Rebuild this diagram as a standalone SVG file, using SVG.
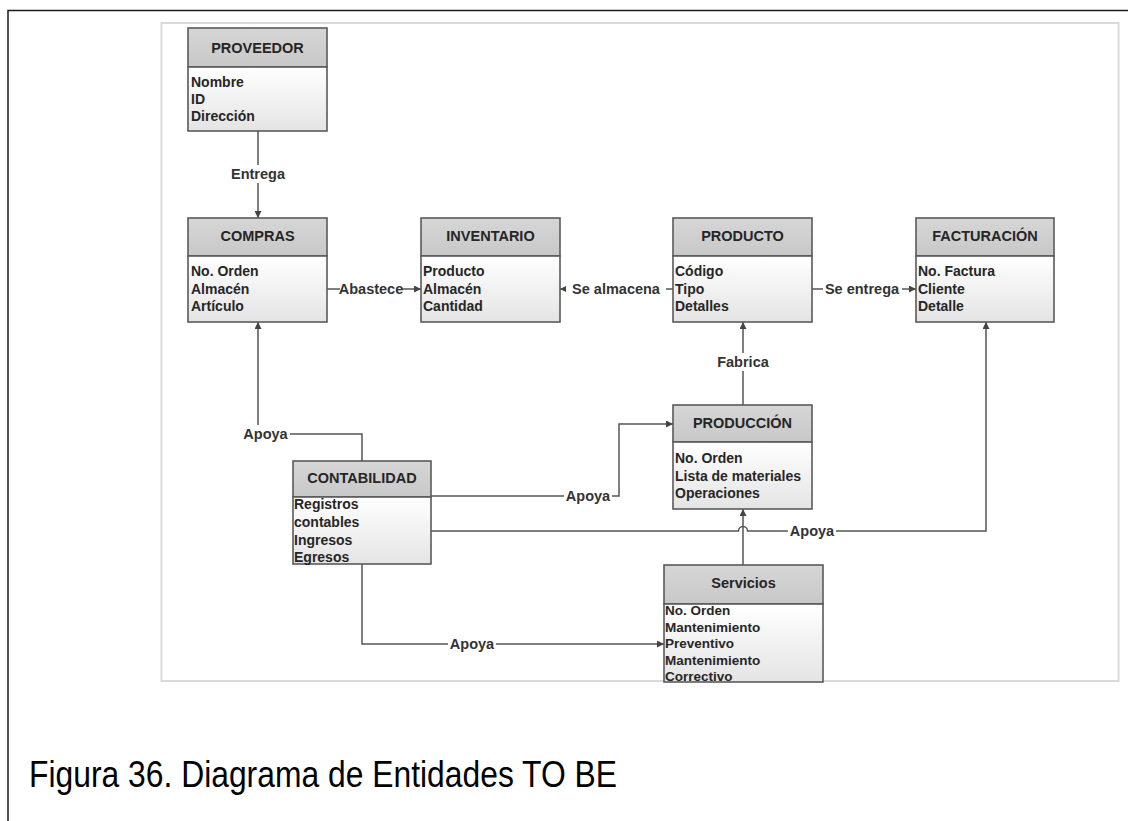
<svg xmlns="http://www.w3.org/2000/svg" width="1128" height="821" viewBox="0 0 1128 821">
  <defs>
    <linearGradient id="hdr" x1="0" y1="0" x2="0" y2="1">
      <stop offset="0" stop-color="#d6d6d6"/>
      <stop offset="1" stop-color="#c8c8c8"/>
    </linearGradient>
    <linearGradient id="body" x1="0" y1="0" x2="0" y2="1">
      <stop offset="0" stop-color="#ffffff"/>
      <stop offset="1" stop-color="#e4e4e4"/>
    </linearGradient>
    <marker id="arr" viewBox="0 0 10 10" refX="10" refY="5" markerWidth="7" markerHeight="7" markerUnits="userSpaceOnUse" orient="auto">
      <path d="M0,0 L10,5 L0,10 Z" fill="#444"/>
    </marker>
  </defs>
  <style>
    .hd { fill: url(#hdr); stroke: #5a5a5a; stroke-width: 1.6; }
    .bd { fill: url(#body); stroke: #5a5a5a; stroke-width: 1.6; }
    .ttl { font-family: "Liberation Sans", Arial, sans-serif; font-weight: bold; font-size: 14.5px; fill: #262626; text-anchor: middle; }
    .att { font-family: "Liberation Sans", Arial, sans-serif; font-weight: bold; font-size: 14px; fill: #262626; }
    .att-s { font-family: "Liberation Sans", Arial, sans-serif; font-weight: bold; font-size: 13.5px; fill: #262626; }
    .ln { fill: none; stroke: #555; stroke-width: 1.5; }
    .lbl { font-family: "Liberation Sans", Arial, sans-serif; font-weight: bold; font-size: 14.5px; fill: #333; text-anchor: middle; }
    .lblbg { fill: #ffffff; }
  </style>

  <!-- page background and margins -->
  <rect x="0" y="0" width="1128" height="821" fill="#ffffff"/>
  <path d="M8,821 V10.5 H1128" fill="none" stroke="#1a1a1a" stroke-width="1.5"/>
  <!-- frame of the embedded figure -->
  <rect x="161.5" y="23" width="957" height="658" fill="#ffffff" stroke="#d9d9d9" stroke-width="2"/>

  <!-- connectors -->
  <g id="connectors">
    <!-- PROVEEDOR -> COMPRAS -->
    <path class="ln" d="M258,131 V218" marker-end="url(#arr)"/>
    <!-- COMPRAS -> INVENTARIO -->
    <path class="ln" d="M327,289 H421" marker-end="url(#arr)"/>
    <!-- PRODUCTO -> INVENTARIO -->
    <path class="ln" d="M673,289 H560" marker-end="url(#arr)"/>
    <!-- PRODUCTO -> FACTURACION -->
    <path class="ln" d="M812,289 H916" marker-end="url(#arr)"/>
    <!-- PRODUCCION -> PRODUCTO -->
    <path class="ln" d="M743,405 V322" marker-end="url(#arr)"/>
    <!-- CONTABILIDAD -> COMPRAS -->
    <path class="ln" d="M362,461 V434 H258 V322" marker-end="url(#arr)"/>
    <!-- CONTABILIDAD -> PRODUCCION -->
    <path class="ln" d="M431,496 H619 V424 H673" marker-end="url(#arr)"/>
    <!-- CONTABILIDAD -> FACTURACION (hops over the Servicios line) -->
    <path class="ln" d="M431,531 H738.5 A4.5,4.5 0 0 1 747.5,531 H986 V322" marker-end="url(#arr)"/>
    <!-- Servicios -> PRODUCCION -->
    <path class="ln" d="M743,565 V509" marker-end="url(#arr)"/>
    <!-- CONTABILIDAD -> Servicios -->
    <path class="ln" d="M362,564 V644 H664" marker-end="url(#arr)"/>

    <!-- labels -->
    <rect class="lblbg" x="229" y="165" width="58" height="18"/>
    <text class="lbl" x="258" y="179">Entrega</text>
    <rect class="lblbg" x="340" y="280" width="62" height="18"/>
    <text class="lbl" x="371" y="294">Abastece</text>
    <rect class="lblbg" x="566" y="280" width="100" height="18"/>
    <text class="lbl" x="616" y="294">Se almacena</text>
    <rect class="lblbg" x="823" y="280" width="79" height="18"/>
    <text class="lbl" x="862" y="294">Se entrega</text>
    <rect class="lblbg" x="714" y="353" width="58" height="18"/>
    <text class="lbl" x="743" y="367">Fabrica</text>
    <rect class="lblbg" x="241" y="425" width="49" height="18"/>
    <text class="lbl" x="265.5" y="439">Apoya</text>
    <rect class="lblbg" x="564" y="487" width="48" height="18"/>
    <text class="lbl" x="588" y="501">Apoya</text>
    <rect class="lblbg" x="788" y="522" width="48" height="18"/>
    <text class="lbl" x="812" y="536">Apoya</text>
    <rect class="lblbg" x="448" y="635" width="48" height="18"/>
    <text class="lbl" x="472" y="649">Apoya</text>
  </g>

  <g id="proveedor">
    <rect class="hd" x="188" y="28" width="139" height="39"/>
    <rect class="bd" x="188" y="67" width="139" height="64"/>
    <text class="ttl" x="257.5" y="53">PROVEEDOR</text>
    <text class="att" x="191" y="87">Nombre</text>
    <text class="att" x="191" y="104">ID</text>
    <text class="att" x="191" y="121">Dirección</text>
  </g>

  <g id="compras">
    <rect class="hd" x="188" y="218" width="139" height="38"/>
    <rect class="bd" x="188" y="256" width="139" height="66"/>
    <text class="ttl" x="257.5" y="241">COMPRAS</text>
    <text class="att" x="191" y="276">No. Orden</text>
    <text class="att" x="191" y="294">Almacén</text>
    <text class="att" x="191" y="311">Artículo</text>
  </g>

  <g id="inventario">
    <rect class="hd" x="421" y="218" width="139" height="38"/>
    <rect class="bd" x="421" y="256" width="139" height="66"/>
    <text class="ttl" x="490.5" y="241">INVENTARIO</text>
    <text class="att" x="423" y="276">Producto</text>
    <text class="att" x="423" y="294">Almacén</text>
    <text class="att" x="423" y="311">Cantidad</text>
  </g>

  <g id="producto">
    <rect class="hd" x="673" y="218" width="139" height="38"/>
    <rect class="bd" x="673" y="256" width="139" height="66"/>
    <text class="ttl" x="742.5" y="241">PRODUCTO</text>
    <text class="att" x="675" y="276">Código</text>
    <text class="att" x="675" y="294">Tipo</text>
    <text class="att" x="675" y="311">Detalles</text>
  </g>

  <g id="facturacion">
    <rect class="hd" x="916" y="218" width="138" height="38"/>
    <rect class="bd" x="916" y="256" width="138" height="66"/>
    <text class="ttl" x="985" y="241">FACTURACIÓN</text>
    <text class="att" x="918" y="276">No. Factura</text>
    <text class="att" x="918" y="294">Cliente</text>
    <text class="att" x="918" y="311">Detalle</text>
  </g>

  <g id="produccion">
    <rect class="hd" x="673" y="405" width="139" height="37"/>
    <rect class="bd" x="673" y="442" width="139" height="67"/>
    <text class="ttl" x="742.5" y="428">PRODUCCIÓN</text>
    <text class="att" x="675" y="463">No. Orden</text>
    <text class="att" x="675" y="481">Lista de materiales</text>
    <text class="att" x="675" y="498">Operaciones</text>
  </g>

  <g id="contabilidad">
    <rect class="hd" x="293" y="461" width="138" height="36"/>
    <rect class="bd" x="293" y="497" width="138" height="67"/>
    <text class="ttl" x="362" y="483">CONTABILIDAD</text>
    <text class="att" x="294" y="509">Registros</text>
    <text class="att" x="294" y="527">contables</text>
    <text class="att" x="294" y="545">Ingresos</text>
    <text class="att" x="294" y="562">Egresos</text>
  </g>

  <g id="servicios">
    <rect class="hd" x="664" y="565" width="159" height="39"/>
    <rect class="bd" x="664" y="604" width="159" height="78"/>
    <text class="ttl" x="743.5" y="588">Servicios</text>
    <text class="att-s" x="665" y="615">No. Orden</text>
    <text class="att-s" x="665" y="632">Mantenimiento</text>
    <text class="att-s" x="665" y="648">Preventivo</text>
    <text class="att-s" x="665" y="665">Mantenimiento</text>
    <text class="att-s" x="665" y="681">Correctivo</text>
  </g>

  <text x="29" y="787" font-family="Liberation Sans, Arial, sans-serif" font-size="36" fill="#000" textLength="588" lengthAdjust="spacingAndGlyphs">Figura 36. Diagrama de Entidades TO BE</text>
</svg>
